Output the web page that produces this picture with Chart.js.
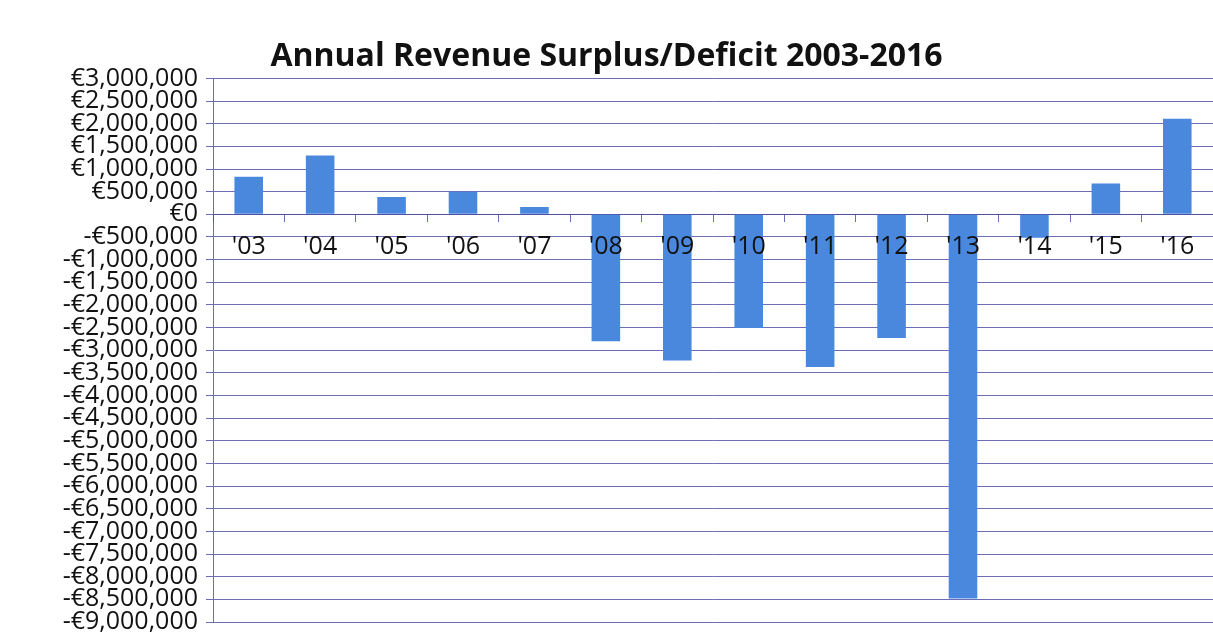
<!DOCTYPE html>
<html>
<head>
<meta charset="utf-8">
<script src="https://cdn.jsdelivr.net/npm/chart.js@4/dist/chart.umd.min.js"></script>
<style>
  html, body { margin: 0; padding: 0; background: #fff; }
  #wrap { width: 1213px; height: 632px; position: relative; }
</style>
</head>
<body>
<div id="wrap"><canvas id="revChart"></canvas></div>
<script>
// values
const years = ["'03", "'04", "'05", "'06", "'07", "'08", "'09", "'10", "'11", "'12", "'13", "'14", "'15", "'16"];
const surplus = [830000, 1300000, 380000, 500000, 160000, -2800000, -3230000, -2510000, -3370000, -2730000, -8480000, -520000, 680000, 2110000];
const yMin = -9000000;
const yMax = 3000000;
const yStep = 500000;

const gridColor = 'rgba(72, 72, 165, 0.8)';

const euro = v => {
  const s = '€' + Math.abs(v).toLocaleString('en-US');
  return v < 0 ? '-' + s : s;
};

const ctx = document.getElementById('revChart').getContext('2d');
new Chart(ctx, {
  type: 'bar',
  data: {
    labels: years,
    datasets: [{
      label: 'Surplus/Deficit',
      data: surplus,
      backgroundColor: '#4a88de',
      borderWidth: 0,
      barPercentage: 0.4,
      categoryPercentage: 1,
    }],
  },
  options: {
    responsive: true,
    maintainAspectRatio: false,
    animation: false,
    layout: { padding: { left: 0, right: 0, top: 0, bottom: 10 } },
    plugins: {
      legend: { display: false },
      tooltip: { enabled: false },
      title: {
        display: true,
        text: 'Annual Revenue Surplus/Deficit 2003-2016',
        color: '#111',
        font: { family: 'Open Sans', size: 32, weight: 'bold' },
        padding: { top: 38, bottom: 2 },
      },
    },
    scales: {
      x: {
        position: { y: 0 },
        grid: {
          display: true,
          drawOnChartArea: false,
          drawTicks: true,
          tickLength: 7,
          color: gridColor,
        },
        border: { display: true, color: gridColor },
        ticks: {
          z: 1, // labels sit on top of the negative bars
          color: '#111',
          font: { family: 'Open Sans', size: 25 },
          padding: 11,
          maxRotation: 0,
          autoSkip: false,
        },
      },
      y: {
        min: yMin,
        max: yMax,
        afterFit(scale) {
          scale.width = 213;
          scale.paddingTop = 0;
          scale.paddingBottom = 0;
        },
        grid: {
          color: gridColor,
          lineWidth: 1,
          tickLength: 7,
        },
        border: { display: true, color: gridColor },
        ticks: {
          stepSize: yStep,
          maxTicksLimit: 40,
          autoSkip: false,
          color: '#111',
          padding: 8,
          font: { family: 'Open Sans', size: 25, lineHeight: 0.8 },
          callback: v => euro(v),
        },
      },
    },
  },
});
</script>
</body>
</html>
